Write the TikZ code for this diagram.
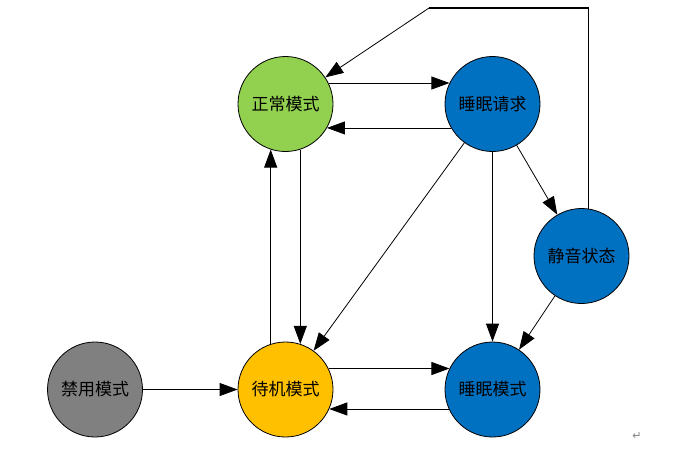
\documentclass[tikz,border=0pt]{standalone}
\usepackage{fontspec}
\newfontfamily\cjk{Noto Sans CJK SC}
\newfontfamily\symf{DejaVu Sans}
\usetikzlibrary{arrows.meta}

\tikzset{
  state/.style={circle,draw=black,line width=0.8pt,minimum size=95pt,inner sep=0pt,
    font=\cjk\fontsize{17}{20}\selectfont},
  tr/.style={->,line width=0.8pt}
}

\begin{document}
\begin{tikzpicture}[x=1pt,y=-1pt,>={Triangle[length=18pt,width=13pt]}]
    \useasboundingbox (0,0) rectangle (680,459);
    \node[state,fill={rgb,255:red,146;green,208;blue,80}]  (zc) at (285.5,104) {正常模式};
    \node[state,fill={rgb,255:red,0;green,112;blue,192}]   (sq) at (492.5,104) {睡眠请求};
    \node[state,fill={rgb,255:red,0;green,112;blue,192}]   (jy) at (581.5,256) {静音状态};
    \node[state,fill={rgb,255:red,128;green,128;blue,128}] (jm) at (95,389.5)  {禁用模式};
    \node[state,fill={rgb,255:red,255;green,192;blue,0}]   (dj) at (285.5,389.5) {待机模式};
    \node[state,fill={rgb,255:red,0;green,112;blue,192}]   (sm) at (492.5,389.5) {睡眠模式};
    \coordinate (tl) at (429,8);
    \node[font=\symf\fontsize{11}{11}\selectfont,text=gray] (pm) at (637,436) {↵};

    \draw[tr] (zc.26) -- (sq.154);
    \draw[tr] (sq.-150) -- (zc.-30);
    \draw[tr] (dj.26) -- (sm.154);
    \draw[tr] (sm.-156) -- (dj.-24);
    \draw[tr] (dj.108) -- (zc.-108);
    \draw[tr] (zc.-72) -- (dj.72);
    \draw[tr] (sq) -- (dj);
    \draw[tr] (sq) -- (sm);
    \draw[tr] (sq) -- (jy);
    \draw[tr] (jy) -- (sm);
    \draw[tr] (jm) -- (dj);
    \draw[line width=1.3pt,line join=miter] (jy.82) |- (tl);
    \draw[tr] (tl) -- (zc);
  \end{tikzpicture}
\end{document}
